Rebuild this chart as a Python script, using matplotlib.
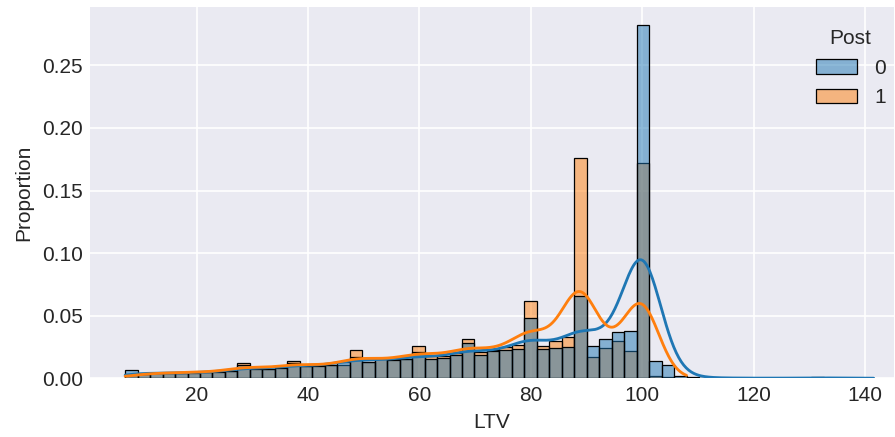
import numpy as np
import pandas as pd
import matplotlib
matplotlib.use("Agg")
import matplotlib.pyplot as plt
import seaborn as sns

# ---------------- data ----------------
bin_lo, bin_hi, n_bins = 7.15, 141.55, 60
hue_levels = ["0", "1"]
hue_colors = ["#1f77b4", "#ff7f0e"]
x_label, y_label, legend_title = "LTV", "Proportion", "Post"
x_ticks = [20, 40, 60, 80, 100, 120, 140]
y_ticks = [0.00, 0.05, 0.10, 0.15, 0.20, 0.25]

# proportion per bin, Post = 0 (blue)
post0 = [0.0065, 0.0035, 0.0040, 0.0040, 0.0045, 0.0045, 0.0050, 0.0050, 0.0055, 0.0105,
         0.0075, 0.0075, 0.0085, 0.0120, 0.0095, 0.0100, 0.0105, 0.0133, 0.0173, 0.0128,
         0.0155, 0.0150, 0.0152, 0.0210, 0.0155, 0.0165, 0.0190, 0.0280, 0.0190, 0.0215,
         0.0230, 0.0232, 0.0479, 0.0234, 0.0240, 0.0252, 0.0657, 0.0258, 0.0311, 0.0367,
         0.0380, 0.2822, 0.0140, 0.0104, 0.0020, 0.0008, 0.0005, 0.0003, 0.0002, 0.0002,
         0.0001, 0.0001, 0.0001, 0.0001, 0.0002, 0.0008, 0.0002, 0.0001, 0.0001, 0.0002]
# proportion per bin, Post = 1 (orange)
post1 = [0.0030, 0.0035, 0.0040, 0.0045, 0.0045, 0.0050, 0.0050, 0.0055, 0.0060, 0.0120,
         0.0080, 0.0078, 0.0088, 0.0138, 0.0100, 0.0105, 0.0110, 0.0106, 0.0226, 0.0133,
         0.0160, 0.0152, 0.0158, 0.0255, 0.0175, 0.0180, 0.0200, 0.0316, 0.0210, 0.0226,
         0.0250, 0.0266, 0.0620, 0.0258, 0.0300, 0.0327, 0.1760, 0.0168, 0.0240, 0.0298,
         0.0220, 0.1722, 0.0015, 0.0008, 0.0003, 0.0, 0.0, 0.0, 0.0, 0.0,
         0.0, 0.0, 0.0, 0.0, 0.0, 0.0, 0.0, 0.0, 0.0, 0.0]
kde_bandwidth = [3.3, 3.1]

# ---------------- style ----------------
plt.style.use("seaborn-v0_8-darkgrid")
plt.rcParams["font.family"] = ["Liberation Sans", "DejaVu Sans"]

edges = np.linspace(bin_lo, bin_hi, n_bins + 1)
centers = (edges[:-1] + edges[1:]) / 2
binw = edges[1] - edges[0]
series = [np.asarray(post0), np.asarray(post1)]

df = pd.DataFrame({
    "LTV": np.concatenate([centers, centers]),
    "Post": np.repeat(hue_levels, n_bins),
    "w": np.concatenate(series),
})
df = df[df["w"] > 0]

W, H, DPI = 895, 437, 150
fig = plt.figure(figsize=(W / DPI, H / DPI), dpi=DPI)
ax = fig.add_axes([90 / W, (H - 378.3) / H, (894 - 90) / W, (378.3 - 7) / H])

sns.histplot(data=df, x="LTV", hue="Post", weights="w", bins=list(edges), stat="count",
             hue_order=hue_levels, palette=dict(zip(hue_levels, hue_colors)),
             alpha=0.5, edgecolor="black", linewidth=0.6, ax=ax)

# KDE curves computed from the binned proportions (scaled to the histogram)
for vals, bw, col in zip(series, kde_bandwidth, hue_colors):
    nz = np.nonzero(vals)[0]
    xs = np.linspace(edges[nz[0]], edges[nz[-1] + 1], 600)
    dens = (vals[None, :] * np.exp(-0.5 * ((xs[:, None] - centers[None, :]) / bw) ** 2)
            / (bw * np.sqrt(2 * np.pi))).sum(axis=1) * binw
    ax.plot(xs, dens, color=col, lw=1.35)

ax.set_xlim(0.84, 145.2)
ax.set_ylim(0, 0.2966)
ax.set_xticks(x_ticks)
ax.set_yticks(y_ticks)
ax.set_yticklabels([f"{v:.2f}" for v in y_ticks])
ax.set_xlabel(x_label)
ax.set_ylabel(y_label)
sns.move_legend(ax, "upper right", title=legend_title, bbox_to_anchor=(1.013, 0.99))

fig.savefig("out.png", dpi=DPI)
